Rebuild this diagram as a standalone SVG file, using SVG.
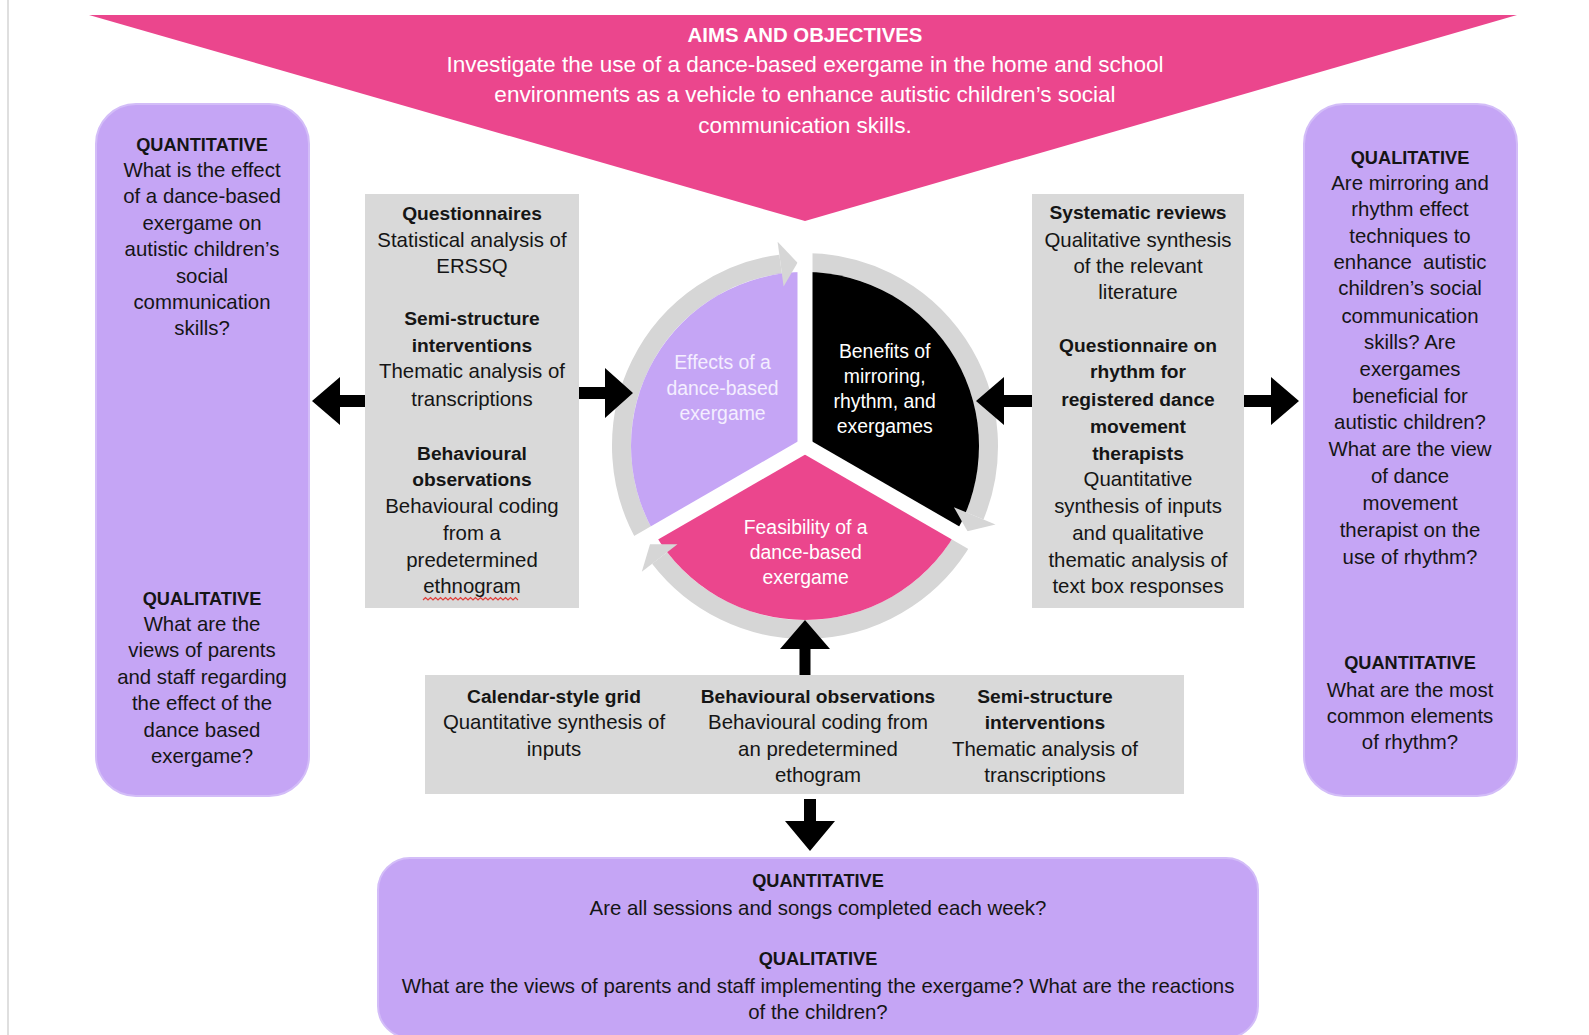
<svg xmlns="http://www.w3.org/2000/svg" width="1589" height="1035" viewBox="0 0 1589 1035">
<style>
  text { font-family: "Liberation Sans", Arial, sans-serif; text-anchor: middle; fill: #151515; }
  .body { font-size: 20.4px; }
  .hd { font-size: 18.2px; font-weight: bold; }
  .bb { font-size: 19.2px; font-weight: bold; }
  .title { font-size: 20.4px; font-weight: bold; fill: #ffffff; }
  .aim { font-size: 22.6px; fill: #ffffff; }
  .seg { font-size: 19.4px; fill: #ffffff; }
  .segl { font-size: 19.4px; fill: #f4eeff; }
  .purple { fill: #c5a5f5; stroke: #d3bdf8; stroke-width: 2; }
  .grey { fill: #d9d9d9; }
  .ring { fill: none; stroke: #d6d6d6; stroke-width: 19; }
  .head { fill: #d6d6d6; }
  .gap { stroke: #ffffff; stroke-width: 15; }
  .arrow { fill: #000000; }
</style>
<rect x="0" y="0" width="1589" height="1035" fill="#ffffff"/>
<line x1="8" y1="0" x2="8" y2="1035" stroke="#d4d4d4" stroke-width="1.5"/>

<g id="aims">
  <polygon points="89,15 1517,15 805,221" fill="#eb468d"/>
  <text class="title" x="805" y="41.5">AIMS AND OBJECTIVES</text>
  <text class="aim" x="805" y="72">Investigate the use of a dance-based exergame in the home and school</text>
  <text class="aim" x="805" y="102">environments as a vehicle to enhance autistic children’s social</text>
  <text class="aim" x="805" y="133">communication skills.</text>
</g>

<g id="left-questions">
  <rect class="purple" x="96" y="104" width="213" height="692" rx="40" ry="40"/>
  <text class="hd" x="202" y="150.5">QUANTITATIVE</text>
  <text class="body" x="202" y="177">What is the effect</text>
  <text class="body" x="202" y="203.3">of a dance-based</text>
  <text class="body" x="202" y="229.7">exergame on</text>
  <text class="body" x="202" y="256.1">autistic children’s</text>
  <text class="body" x="202" y="282.5">social</text>
  <text class="body" x="202" y="308.9">communication</text>
  <text class="body" x="202" y="335.3">skills?</text>
  <text class="hd" x="202" y="604.5">QUALITATIVE</text>
  <text class="body" x="202" y="630.9">What are the</text>
  <text class="body" x="202" y="657.3">views of parents</text>
  <text class="body" x="202" y="683.7">and staff regarding</text>
  <text class="body" x="202" y="710.1">the effect of the</text>
  <text class="body" x="202" y="736.5">dance based</text>
  <text class="body" x="202" y="762.9">exergame?</text>
</g>

<g id="left-methods">
  <rect class="grey" x="365" y="194" width="214" height="414"/>
  <text class="bb" x="472" y="219.5">Questionnaires</text>
  <text class="body" x="472" y="246.5">Statistical analysis of</text>
  <text class="body" x="472" y="273">ERSSQ</text>
  <text class="bb" x="472" y="324.7">Semi-structure</text>
  <text class="bb" x="472" y="352">interventions</text>
  <text class="body" x="472" y="378.4">Thematic analysis of</text>
  <text class="body" x="472" y="405.8">transcriptions</text>
  <text class="bb" x="472" y="459.5">Behavioural</text>
  <text class="bb" x="472" y="485.8">observations</text>
  <text class="body" x="472" y="513.2">Behavioural coding</text>
  <text class="body" x="472" y="539.5">from a</text>
  <text class="body" x="472" y="566.9">predetermined</text>
  <text class="body" x="472" y="593.3">ethnogram</text>
  <path d="M423,600 l2.5,-2.5 l2.5,2.5 l2.5,-2.5 l2.5,2.5 l2.5,-2.5 l2.5,2.5 l2.5,-2.5 l2.5,2.5 l2.5,-2.5 l2.5,2.5 l2.5,-2.5 l2.5,2.5 l2.5,-2.5 l2.5,2.5 l2.5,-2.5 l2.5,2.5 l2.5,-2.5 l2.5,2.5 l2.5,-2.5 l2.5,2.5 l2.5,-2.5 l2.5,2.5 l2.5,-2.5 l2.5,2.5 l2.5,-2.5 l2.5,2.5 l2.5,-2.5 l2.5,2.5 l2.5,-2.5 l2.5,2.5 l2.5,-2.5 l2.5,2.5 l2.5,-2.5 l2.5,2.5 l2.5,-2.5 l2.5,2.5 l2.5,-2.5 l2.5,2.5" fill="none" stroke="#e0403a" stroke-width="1.2"/>
</g>

<g id="right-methods">
  <rect class="grey" x="1032" y="194" width="212" height="414"/>
  <text class="bb" x="1138" y="219.3">Systematic reviews</text>
  <text class="body" x="1138" y="246.7">Qualitative synthesis</text>
  <text class="body" x="1138" y="273">of the relevant</text>
  <text class="body" x="1138" y="299.4">literature</text>
  <text class="bb" x="1138" y="352.1">Questionnaire on</text>
  <text class="bb" x="1138" y="378.4">rhythm for</text>
  <text class="bb" x="1138" y="405.8">registered dance</text>
  <text class="bb" x="1138" y="433.1">movement</text>
  <text class="bb" x="1138" y="459.5">therapists</text>
  <text class="body" x="1138" y="485.8">Quantitative</text>
  <text class="body" x="1138" y="513.2">synthesis of inputs</text>
  <text class="body" x="1138" y="539.5">and qualitative</text>
  <text class="body" x="1138" y="566.9">thematic analysis of</text>
  <text class="body" x="1138" y="593.3">text box responses</text>
</g>

<g id="right-questions">
  <rect class="purple" x="1304" y="104" width="213" height="692" rx="40" ry="40"/>
  <text class="hd" x="1410" y="163.6">QUALITATIVE</text>
  <text class="body" x="1410" y="189.9">Are mirroring and</text>
  <text class="body" x="1410" y="216.3">rhythm effect</text>
  <text class="body" x="1410" y="242.6">techniques to</text>
  <text class="body" x="1410" y="269" style="white-space:pre">enhance  autistic</text>
  <text class="body" x="1410" y="295.3">children’s social</text>
  <text class="body" x="1410" y="322.7">communication</text>
  <text class="body" x="1410" y="349">skills? Are</text>
  <text class="body" x="1410" y="376.4">exergames</text>
  <text class="body" x="1410" y="402.7">beneficial for</text>
  <text class="body" x="1410" y="429.1">autistic children?</text>
  <text class="body" x="1410" y="456.4">What are the view</text>
  <text class="body" x="1410" y="482.8">of dance</text>
  <text class="body" x="1410" y="510.2">movement</text>
  <text class="body" x="1410" y="536.5">therapist on the</text>
  <text class="body" x="1410" y="563.9">use of rhythm?</text>
  <text class="hd" x="1410" y="669.3">QUANTITATIVE</text>
  <text class="body" x="1410" y="696.6">What are the most</text>
  <text class="body" x="1410" y="723">common elements</text>
  <text class="body" x="1410" y="749.3">of rhythm?</text>
</g>

<g id="bottom-methods">
  <rect class="grey" x="425" y="675" width="759" height="119"/>
  <text class="bb" x="554" y="702.7">Calendar-style grid</text>
  <text class="body" x="554" y="729">Quantitative synthesis of</text>
  <text class="body" x="554" y="756.4">inputs</text>
  <text class="bb" x="818" y="702.7">Behavioural observations</text>
  <text class="body" x="818" y="729">Behavioural coding from</text>
  <text class="body" x="818" y="756.4">an predetermined</text>
  <text class="body" x="818" y="781.8">ethogram</text>
  <text class="bb" x="1045" y="702.7">Semi-structure</text>
  <text class="bb" x="1045" y="729">interventions</text>
  <text class="body" x="1045" y="756.4">Thematic analysis of</text>
  <text class="body" x="1045" y="781.8">transcriptions</text>
</g>

<g id="bottom-questions">
  <rect class="purple" x="378" y="858" width="880" height="180" rx="32" ry="32"/>
  <text class="hd" x="818" y="887">QUANTITATIVE</text>
  <text class="body" x="818" y="914.5">Are all sessions and songs completed each week?</text>
  <text class="hd" x="818" y="965">QUALITATIVE</text>
  <text class="body" x="818" y="992.5">What are the views of parents and staff implementing the exergame? What are the reactions</text>
  <text class="body" x="818" y="1019">of the children?</text>
</g>

<g id="cycle">
  <path class="ring" d="M646.1,537.75 A183.5,183.5 0 0 1 780.6,264.1"/>
  <path class="ring" d="M805,262.5 A183.5,183.5 0 0 1 974.7,515.8"/>
  <path class="ring" d="M963.9,537.75 A183.5,183.5 0 0 1 659.6,558"/>
  <g id="seg-effects">
    <path d="M805,446 L654.3,533 A174,174 0 0 1 805,272 Z" fill="#c5a5f5"/>
  </g>
  <g id="seg-benefits">
    <path d="M805,446 L805,272 A174,174 0 0 1 955.7,533 Z" fill="#000000"/>
  </g>
  <g id="seg-feasibility">
    <path d="M805,446 L955.7,533 A174,174 0 0 1 654.3,533 Z" fill="#eb468d"/>
  </g>
  <polygon class="head" points="783.6,286.4 777.6,241.8 797.5,262.65"/>
  <polygon class="head" points="953.9,507.2 995.5,524.4 967.5,531.2"/>
  <polygon class="head" points="677.5,544.3 641.8,571.8 650,544.2"/>
  <line class="gap" x1="805" y1="446" x2="805" y2="231"/>
  <line class="gap" x1="805" y1="446" x2="991.2" y2="553.5"/>
  <line class="gap" x1="805" y1="446" x2="618.8" y2="553.5"/>
  <text class="segl" x="722.5" y="369">Effects of a</text>
  <text class="segl" x="722.5" y="394.5">dance-based</text>
  <text class="segl" x="722.5" y="420">exergame</text>
  <text class="seg" x="884.7" y="358">Benefits of</text>
  <text class="seg" x="884.7" y="383">mirroring,</text>
  <text class="seg" x="884.7" y="408">rhythm, and</text>
  <text class="seg" x="884.7" y="432.5">exergames</text>
  <text class="seg" x="805.7" y="533.5">Feasibility of a</text>
  <text class="seg" x="805.7" y="558.5">dance-based</text>
  <text class="seg" x="805.7" y="584">exergame</text>
</g>

<g id="connectors">
  <polygon class="arrow" points="312,401 340,377 340,395 365,395 365,407 340,407 340,425"/>
  <polygon class="arrow" points="579,387 605,387 605,368 633,393 605,418 605,399 579,399"/>
  <polygon class="arrow" points="976,401 1004,377 1004,395 1032,395 1032,407 1004,407 1004,425"/>
  <polygon class="arrow" points="1244,395 1271,395 1271,377 1299,401 1271,425 1271,407 1244,407"/>
  <polygon class="arrow" points="805,620 830,649 810.5,649 810.5,675 799.5,675 799.5,649 780,649"/>
  <polygon class="arrow" points="804,799 816,799 816,821 835,821 810,851 785,821 804,821"/>
</g>
</svg>
